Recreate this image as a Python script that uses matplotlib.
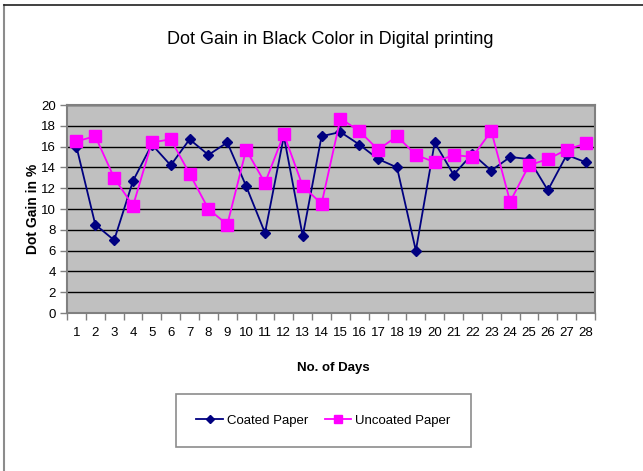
import matplotlib
matplotlib.use("Agg")
import matplotlib.pyplot as plt
from matplotlib.lines import Line2D
import numpy as np

days = list(range(1, 29))
coated = [16.0, 8.5, 7.0, 12.7, 16.2, 14.2, 16.7, 15.2, 16.4, 12.2, 7.7, 17.0, 7.4, 17.0,
          17.4, 16.2, 14.8, 14.0, 6.0, 16.4, 13.3, 15.3, 13.7, 15.0, 14.8, 11.8, 15.2, 14.5]
uncoated = [16.5, 17.0, 13.0, 10.3, 16.4, 16.7, 13.4, 10.0, 8.5, 15.7, 12.5, 17.2, 12.2, 10.5,
            18.7, 17.5, 15.7, 17.0, 15.2, 14.5, 15.2, 15.0, 17.5, 10.7, 14.2, 14.8, 15.7, 16.3]
y_ticks = [0, 2, 4, 6, 8, 10, 12, 14, 16, 18, 20]

FONT = ["Liberation Sans", "DejaVu Sans"]
plt.rcParams["font.family"] = FONT

W, H = 643, 471
fig = plt.figure(figsize=(W / 100, H / 100), dpi=100)
fig.patch.set_facecolor("white")

# outer frame (top and left edges visible)
fig.add_artist(Line2D([4 / W, 4 / W], [0, 1 - 5 / H], transform=fig.transFigure,
                      color="#8c8c8c", lw=1.5))
fig.add_artist(Line2D([4 / W, 1], [1 - 5 / H, 1 - 5 / H], transform=fig.transFigure,
                      color="#202020", lw=1.2))

left, right, top, bottom = 67, 595, 105, 313
ax = fig.add_axes([left / W, 1 - bottom / H, (right - left) / W, (bottom - top) / H])
ax.set_facecolor("#C0C0C0")

x = np.array(days)
ax.plot(x, coated, color="#000080", lw=1.3, marker="D", markersize=5.5,
        label="Coated Paper", zorder=3)
ax.plot(x, uncoated, color="#FF00FF", lw=1.3, marker="s", markersize=8,
        label="Uncoated Paper", zorder=3)

ax.set_xlim(0.5, 28.5)
ax.set_ylim(0, 20)
ax.set_yticks(y_ticks)
ax.set_yticklabels([str(v) for v in y_ticks], fontsize=9.5)
ax.yaxis.grid(True, color="black", lw=1)
ax.set_axisbelow(True)

# category-boundary ticks with labels centred under each day
ax.set_xticks(np.arange(0.5, 29, 1))
ax.set_xticklabels([])
ax.set_xticks(x, minor=True)
ax.set_xticklabels([str(d) for d in days], minor=True, fontsize=9.5)
ax.tick_params(axis="x", which="major", length=5, width=1, color="#808080", direction="out")
ax.tick_params(axis="x", which="minor", length=0, pad=10)
ax.tick_params(axis="y", length=5, width=1, color="#808080", direction="out", pad=3)

for s in ax.spines.values():
    s.set_color("#808080")
    s.set_linewidth(1.5)

fig.text(330 / W, 1 - 40 / H, "Dot Gain in Black Color in Digital printing",
         ha="center", va="center", fontsize=13)
fig.text(33 / W, 1 - 209 / H, "Dot Gain in %", rotation=90, ha="center", va="center",
         fontsize=10, fontweight="bold")
fig.text(333 / W, 1 - 368 / H, "No. of Days", ha="center", va="center",
         fontsize=9.5, fontweight="bold")

leg = fig.legend(loc="center", bbox_to_anchor=((181 + 466) / 2 / W, 1 - (388 + 453) / 2 / H),
                 ncol=2, frameon=True, fancybox=False, fontsize=9.5,
                 handlelength=2.0, handletextpad=0.3, columnspacing=1.3,
                 borderpad=1.55, borderaxespad=0, markerscale=0.75)
leg.get_frame().set_edgecolor("#707070")
leg.get_frame().set_linewidth(1.2)

fig.savefig("out.png", dpi=100, facecolor="white")
